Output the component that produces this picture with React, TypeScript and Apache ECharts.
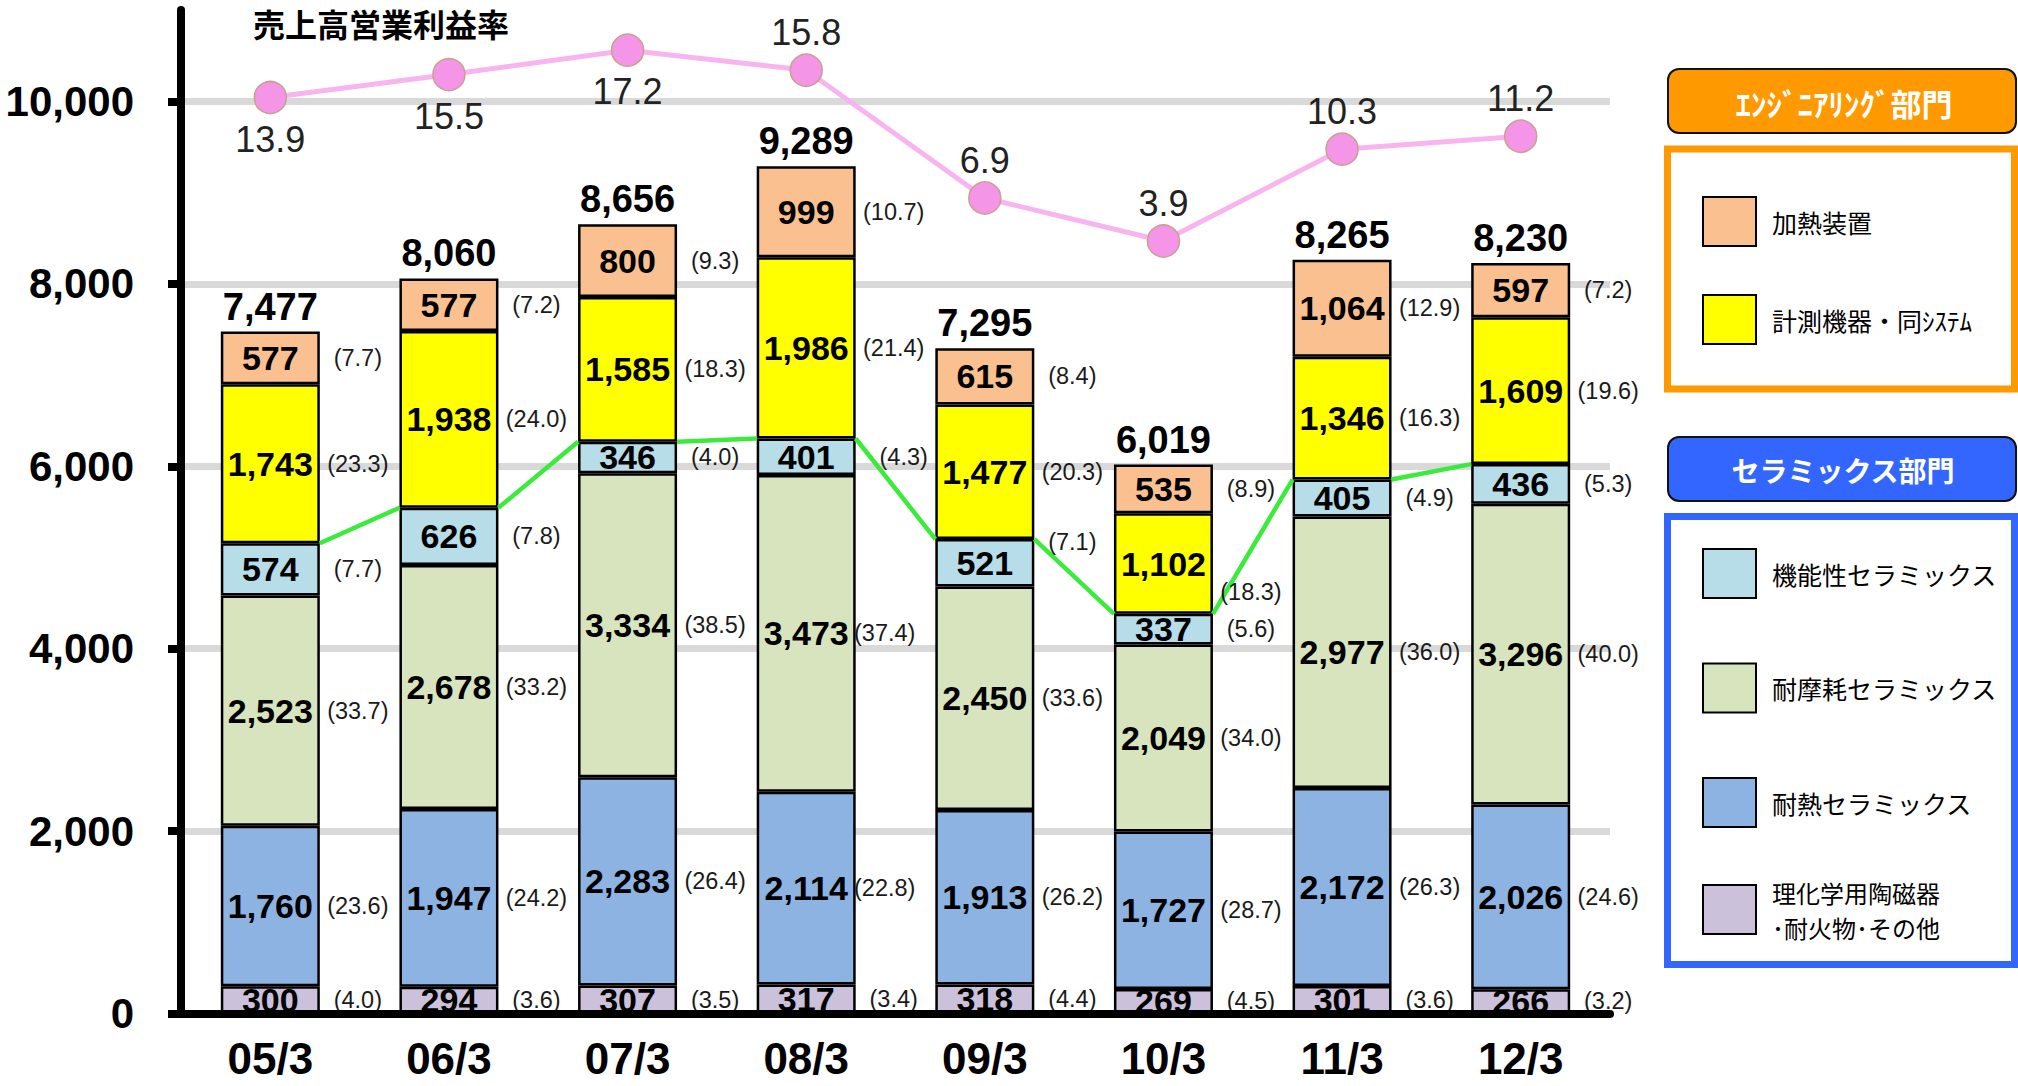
import React, { useEffect, useRef } from 'react';
import * as echarts from 'echarts';

// ---- data ----
const categories = ['05/3', '06/3', '07/3', '08/3', '09/3', '10/3', '11/3', '12/3'];
const yTickLabels = ['0', '2,000', '4,000', '6,000', '8,000', '10,000'];

const laboratory = [300, 294, 307, 317, 318, 269, 301, 266];
const heatResistant = [1760, 1947, 2283, 2114, 1913, 1727, 2172, 2026];
const wearResistant = [2523, 2678, 3334, 3473, 2450, 2049, 2977, 3296];
const functional = [574, 626, 346, 401, 521, 337, 405, 436];
const measuring = [1743, 1938, 1585, 1986, 1477, 1102, 1346, 1609];
const heating = [577, 577, 800, 999, 615, 535, 1064, 597];

const laboratoryPct = [4.0, 3.6, 3.5, 3.4, 4.4, 4.5, 3.6, 3.2];
const heatResistantPct = [23.6, 24.2, 26.4, 22.8, 26.2, 28.7, 26.3, 24.6];
const wearResistantPct = [33.7, 33.2, 38.5, 37.4, 33.6, 34.0, 36.0, 40.0];
const functionalPct = [7.7, 7.8, 4.0, 4.3, 7.1, 5.6, 4.9, 5.3];
const measuringPct = [23.3, 24.0, 18.3, 21.4, 20.3, 18.3, 16.3, 19.6];
const heatingPct = [7.7, 7.2, 9.3, 10.7, 8.4, 8.9, 12.9, 7.2];

const totals = [7477, 8060, 8656, 9289, 7295, 6019, 8265, 8230];
const operatingMargin = [13.9, 15.5, 17.2, 15.8, 6.9, 3.9, 10.3, 11.2];
const marginLabelPos = ['bottom', 'bottom', 'bottom', 'top', 'top', 'top', 'top', 'top'];

const seriesNames = [
  '理化学用陶磁器\n･耐火物･その他',
  '耐熱セラミックス',
  '耐摩耗セラミックス',
  '機能性セラミックス',
  '計測機器・同ｼｽﾃﾑ',
  '加熱装置',
];
const seriesColors = ['#CCC1DA', '#8DB3E2', '#D7E4BD', '#B7DDE8', '#FFFF00', '#FAC090'];

// ---- style constants ----
const LATIN = "'Liberation Sans', Arial, sans-serif";
const CJK = "'Noto Sans CJK JP', 'Noto Sans', sans-serif";
const BAR_W = 99;
const HALF = BAR_W / 2;
const PCT_CENTER_DX = 38;
const pctOffsets: Record<string, [number, number]> = {
  '4-3': [0, -21],
  '5-4': [0, 28],
  '3-3': [10, 0],
  '3-2': [-9, 0],
  '3-1': [-9, 0],
};

const fmt = (v: number) => v.toLocaleString('en-US');

const legendBase = {
  orient: 'vertical',
  left: 1702,
  itemWidth: 53,
  itemHeight: 49,
  selectedMode: false,
  icon: 'rect',
  padding: 0,
  z: 10,
};

export default function App() {
  const ref = useRef<HTMLDivElement>(null);

  useEffect(() => {
    if (!ref.current) return;
    const chart = echarts.init(ref.current, undefined, { renderer: 'svg' });

    const segs = [laboratory, heatResistant, wearResistant, functional, measuring, heating];
    const pcts = [laboratoryPct, heatResistantPct, wearResistantPct, functionalPct, measuringPct, heatingPct];

    const pctData: number[][] = [];
    categories.forEach((_, i) => {
      let cum = 0;
      segs.forEach((arr, s) => {
        pctData.push([i, cum + arr[i] / 2, s]);
        cum += arr[i];
      });
    });
    const ceramicTop = categories.map(
      (_, i) => laboratory[i] + heatResistant[i] + wearResistant[i] + functional[i]
    );

    const barSeries = segs.map((arr, s) => ({
      name: seriesNames[s],
      type: 'bar',
      stack: 'sales',
      xAxisIndex: 0,
      yAxisIndex: 0,
      barWidth: BAR_W,
      data: arr,
      itemStyle: { color: seriesColors[s], borderColor: '#000', borderWidth: 2.5 },
      label: {
        show: true,
        position: 'inside',
        formatter: (p: any) => fmt(p.value),
        fontSize: 34,
        fontWeight: 'bold',
        color: '#000',
        fontFamily: LATIN,
      },
      z: 2,
    }));

    const legendText = { fontSize: 25, color: '#000', fontFamily: CJK, lineHeight: 31, padding: [0, 0, 0, 11] };

    const option: any = {
      animation: false,
      backgroundColor: '#ffffff',
      textStyle: { fontFamily: LATIN },
      title: {
        text: '売上高営業利益率',
        left: 248,
        top: 2,
        textStyle: { fontSize: 32, fontWeight: 'bold', color: '#000', fontFamily: CJK },
      },
      grid: [
        { left: 181, right: 408, top: 101.5, bottom: 72.5 },
        { left: 181, right: 408, top: 10, height: 287 },
      ],
      xAxis: [
        {
          type: 'category',
          gridIndex: 0,
          data: categories,
          z: 10,
          axisLine: { lineStyle: { color: '#000', width: 8 } },
          axisTick: { show: false },
          axisLabel: {
            fontSize: 44,
            lineHeight: 36,
            fontWeight: 'bold',
            color: '#000',
            margin: 27,
            fontFamily: LATIN,
          },
        },
        {
          type: 'category',
          gridIndex: 1,
          data: categories,
          show: false,
        },
      ],
      yAxis: [
        {
          type: 'value',
          gridIndex: 0,
          min: 0,
          max: 10000,
          interval: 2000,
          axisLine: { show: true, lineStyle: { color: '#000', width: 8 } },
          axisTick: { show: true, length: 13, lineStyle: { color: '#000', width: 8 } },
          axisLabel: {
            fontSize: 42,
            fontWeight: 'bold',
            color: '#000',
            margin: 47,
            fontFamily: LATIN,
            formatter: (v: number) => yTickLabels[Math.round(v / 2000)] ?? fmt(v),
          },
          splitLine: { show: true, lineStyle: { color: '#D9D9D9', width: 7 } },
        },
        {
          type: 'value',
          gridIndex: 1,
          min: 0,
          max: 20,
          axisLine: { show: true, lineStyle: { color: '#000', width: 8 } },
          axisTick: { show: false },
          axisLabel: { show: false },
          splitLine: { show: false },
        },
      ],
      legend: [
        {
          ...legendBase,
          top: 196,
          itemGap: 47,
          data: ['加熱装置', '計測機器・同ｼｽﾃﾑ'],
          textStyle: legendText,
        },
        {
          ...legendBase,
          top: 548,
          itemGap: 63.5,
          data: ['機能性セラミックス', '耐摩耗セラミックス', '耐熱セラミックス'],
          textStyle: legendText,
        },
        {
          ...legendBase,
          top: 868.5,
          data: ['理化学用陶磁器\n･耐火物･その他'],
          textStyle: { ...legendText, fontSize: 24, lineHeight: 35, padding: [12, 0, 0, 11] },
        },
      ],
      graphic: {
        elements: [
          {
            type: 'rect',
            z: 1,
            shape: { x: 1668, y: 69, width: 348, height: 64, r: 11 },
            style: { fill: '#FF9900', stroke: '#111', lineWidth: 2 },
          },
          {
            type: 'text',
            z: 2,
            x: 1844,
            y: 102,
            style: {
              text: 'ｴﾝｼﾞﾆｱﾘﾝｸﾞ部門',
              fill: '#fff',
              fontSize: 31,
              fontWeight: 'bold',
              fontFamily: CJK,
              align: 'center',
              verticalAlign: 'middle',
            },
          },
          {
            type: 'rect',
            z: 1,
            shape: { x: 1667.5, y: 149, width: 347, height: 240 },
            style: { fill: '#fff', stroke: '#FF9900', lineWidth: 7 },
          },
          {
            type: 'rect',
            z: 1,
            shape: { x: 1668, y: 437, width: 348, height: 64, r: 11 },
            style: { fill: '#3366FF', stroke: '#111', lineWidth: 2 },
          },
          {
            type: 'text',
            z: 2,
            x: 1843,
            y: 470,
            style: {
              text: 'セラミックス部門',
              fill: '#fff',
              fontSize: 28,
              fontWeight: 'bold',
              fontFamily: CJK,
              align: 'center',
              verticalAlign: 'middle',
            },
          },
          {
            type: 'rect',
            z: 1,
            shape: { x: 1667.5, y: 516.5, width: 347, height: 448 },
            style: { fill: '#fff', stroke: '#3366FF', lineWidth: 7 },
          },
        ],
      },
      series: [
        ...barSeries,
        {
          name: 'total',
          type: 'bar',
          stack: 'sales',
          xAxisIndex: 0,
          yAxisIndex: 0,
          barWidth: BAR_W,
          data: totals.map(() => 0),
          itemStyle: { color: 'rgba(0,0,0,0)', borderWidth: 0 },
          label: {
            show: true,
            position: 'top',
            distance: 6,
            formatter: (p: any) => fmt(totals[p.dataIndex]),
            fontSize: 38,
            fontWeight: 'bold',
            color: '#000',
            fontFamily: LATIN,
          },
          z: 3,
        },
        {
          name: 'ceramicLine',
          type: 'custom',
          xAxisIndex: 0,
          yAxisIndex: 0,
          clip: false,
          z: 4,
          data: ceramicTop.map((v, i) => [i, v]),
          encode: { x: 0, y: 1 },
          renderItem: (params: any, api: any) => {
            const i = params.dataIndex;
            if (i >= ceramicTop.length - 1) return { type: 'group', children: [] };
            const p0 = api.coord([i, ceramicTop[i]]);
            const p1 = api.coord([i + 1, ceramicTop[i + 1]]);
            return {
              type: 'line',
              shape: { x1: p0[0] + HALF, y1: p0[1], x2: p1[0] - HALF, y2: p1[1] },
              style: { stroke: '#3BEB3B', lineWidth: 4.5 },
            };
          },
        },
        {
          name: 'shareLabels',
          type: 'custom',
          xAxisIndex: 0,
          yAxisIndex: 0,
          clip: false,
          z: 5,
          data: pctData,
          encode: { x: 0, y: 1 },
          renderItem: (params: any, api: any) => {
            const i = api.value(0);
            const v = api.value(1);
            const s = api.value(2);
            const p = api.coord([i, v]);
            const off = pctOffsets[`${i}-${s}`] || [0, 0];
            return {
              type: 'text',
              x: p[0] + HALF + PCT_CENTER_DX + off[0],
              y: p[1] + off[1],
              style: {
                text: '(' + pcts[s][i].toFixed(1) + ')',
                fontSize: 23.5,
                fill: '#1a1a1a',
                fontFamily: LATIN,
                align: 'center',
                verticalAlign: 'middle',
              },
            };
          },
        },
        {
          name: '売上高営業利益率',
          type: 'line',
          xAxisIndex: 1,
          yAxisIndex: 1,
          z: 6,
          symbol: 'circle',
          symbolSize: 32,
          data: operatingMargin.map((v, i) => ({
            value: v,
            label: { position: marginLabelPos[i], distance: marginLabelPos[i] === 'top' ? 3 : 7 },
          })),
          lineStyle: { color: '#F8B4EE', width: 5 },
          itemStyle: { color: '#F595E8', borderColor: '#C9A08C', borderWidth: 1.5 },
          label: {
            show: true,
            fontSize: 36,
            color: '#222',
            fontFamily: LATIN,
            formatter: (p: any) => Number(p.value).toFixed(1),
          },
        },
      ],
    };

    chart.setOption(option);
    return () => chart.dispose();
  }, []);

  return (
    <div
      ref={ref}
      style={{ position: 'absolute', left: 0, top: 0, width: 2018, height: 1086, background: '#fff' }}
    />
  );
}
